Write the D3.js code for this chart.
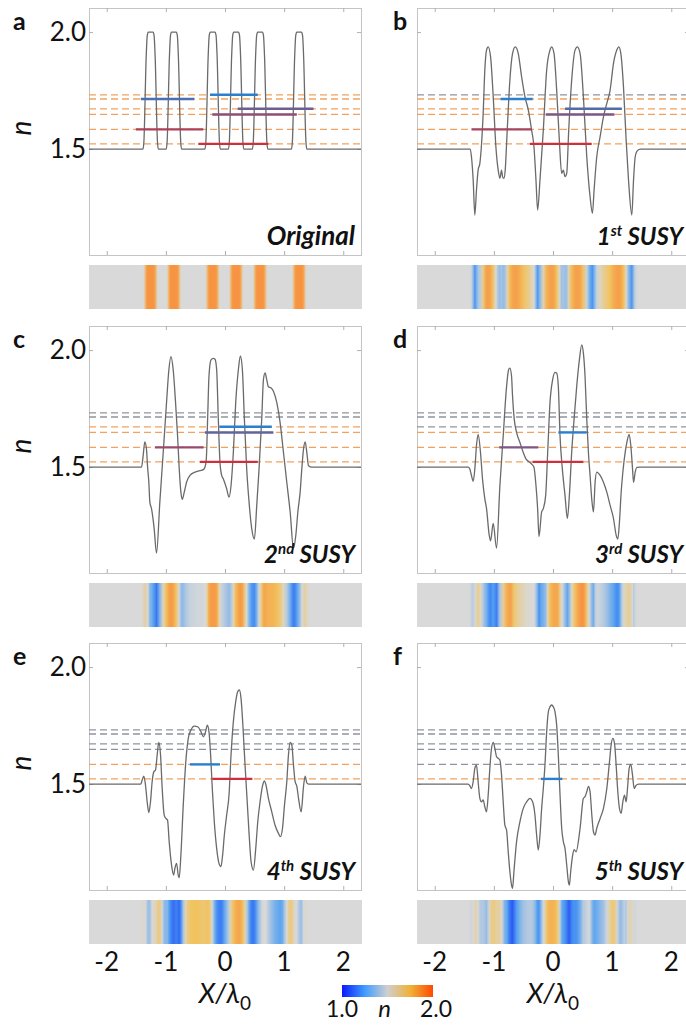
<!DOCTYPE html>
<html><head><meta charset="utf-8">
<script src="https://cdn.jsdelivr.net/npm/d3@7"></script>
<style>body{margin:0;background:#fff}svg{display:block}</style>
</head><body>
<script>
// ---------- data ----------
const xTicks = [-2, -1, 0, 1, 2];
const yTicks = [1.5, 2.0];
const panelLetters = ["a", "b", "c", "d", "e", "f"];
const titleMain = ["Original", "1", "2", "3", "4", "5"];
const titleSup = ["", "st", "nd", "rd", "th", "th"];
const modeIndex = [1.732, 1.714, 1.672, 1.648, 1.584, 1.522];
const colorbarTicks = [1.0, 2.0];

const profileA = [[-2.3,1.5],
 [-1.387,1.5],[-1.372,1.53],[-1.332,1.9],[-1.315,1.985],[-1.297,2.0],[-1.217,2.0],[-1.199,1.985],[-1.182,1.9],[-1.142,1.53],[-1.127,1.5],
 [-0.994,1.5],[-0.979,1.53],[-0.939,1.9],[-0.922,1.985],[-0.904,2.0],[-0.824,2.0],[-0.806,1.985],[-0.789,1.9],[-0.749,1.53],[-0.734,1.5],
 [-0.339,1.5],[-0.324,1.53],[-0.284,1.9],[-0.267,1.985],[-0.249,2.0],[-0.169,2.0],[-0.151,1.985],[-0.134,1.9],[-0.094,1.53],[-0.079,1.5],
 [0.058,1.5],[0.073,1.53],[0.113,1.9],[0.130,1.985],[0.148,2.0],[0.228,2.0],[0.246,1.985],[0.263,1.9],[0.303,1.53],[0.318,1.5],
 [0.463,1.5],[0.478,1.53],[0.518,1.9],[0.535,1.985],[0.553,2.0],[0.633,2.0],[0.651,1.985],[0.668,1.9],[0.708,1.53],[0.723,1.5],
 [1.124,1.5],[1.139,1.53],[1.179,1.9],[1.196,1.985],[1.214,2.0],[1.294,2.0],[1.312,1.985],[1.329,1.9],[1.369,1.53],[1.384,1.5],
 [2.3,1.5]];

const profileB = [[-2.3,1.5],[-1.40,1.5],[-1.379,1.467],[-1.35,1.368],[-1.322,1.218],[-1.294,1.325],[-1.266,1.41],[-1.237,1.439],[-1.181,1.652],[-1.153,1.838],[-1.124,1.923],[-1.096,1.937],[-1.056,1.895],[-1.011,1.724],[-0.966,1.51],[-0.927,1.41],[-0.898,1.375],[-0.870,1.41],[-0.853,1.382],[-0.831,1.375],[-0.808,1.41],[-0.774,1.581],[-0.729,1.795],[-0.684,1.909],[-0.638,1.937],[-0.588,1.909],[-0.531,1.809],[-0.475,1.724],[-0.418,1.667],[-0.362,1.581],[-0.322,1.51],[-0.288,1.368],[-0.260,1.239],[-0.220,1.368],[-0.164,1.581],[-0.107,1.838],[-0.051,1.923],[-0.023,1.937],[0.017,1.909],[0.062,1.752],[0.107,1.538],[0.147,1.396],[0.175,1.41],[0.203,1.382],[0.232,1.396],[0.266,1.581],[0.316,1.795],[0.373,1.923],[0.412,1.937],[0.458,1.909],[0.514,1.724],[0.571,1.467],[0.627,1.296],[0.667,1.225],[0.695,1.325],[0.740,1.467],[0.797,1.553],[0.853,1.638],[0.910,1.695],[0.966,1.752],[1.023,1.866],[1.079,1.923],[1.113,1.937],[1.147,1.909],[1.192,1.766],[1.237,1.538],[1.277,1.368],[1.333,1.218],[1.362,1.368],[1.390,1.467],[1.418,1.49],[1.475,1.5],[2.3,1.5]];

const profileC = [[-2.3,1.5],[-1.412,1.5],[-1.384,1.549],[-1.356,1.608],[-1.328,1.577],[-1.311,1.506],[-1.288,1.435],[-1.271,1.35],[-1.243,1.322],[-1.198,1.237],[-1.158,1.132],[-1.102,1.35],[-1.045,1.562],[-0.989,1.775],[-0.949,1.916],[-0.915,1.972],[-0.876,1.916],[-0.836,1.775],[-0.802,1.633],[-0.774,1.492],[-0.746,1.393],[-0.723,1.362],[-0.689,1.393],[-0.650,1.435],[-0.593,1.464],[-0.508,1.478],[-0.424,1.485],[-0.367,1.489],[-0.339,1.499],[-0.316,1.535],[-0.294,1.704],[-0.271,1.888],[-0.237,1.958],[-0.198,1.965],[-0.169,1.961],[-0.141,1.916],[-0.113,1.704],[-0.085,1.52],[-0.056,1.464],[-0.028,1.449],[0.028,1.407],[0.068,1.371],[0.102,1.421],[0.141,1.562],[0.181,1.775],[0.226,1.916],[0.260,1.975],[0.294,1.916],[0.328,1.704],[0.367,1.492],[0.407,1.35],[0.452,1.237],[0.497,1.192],[0.537,1.336],[0.576,1.492],[0.621,1.704],[0.650,1.874],[0.678,1.902],[0.706,1.874],[0.734,1.843],[0.780,1.838],[0.819,1.824],[0.876,1.775],[0.932,1.69],[0.989,1.562],[1.045,1.435],[1.102,1.308],[1.158,1.153],[1.198,1.209],[1.232,1.308],[1.271,1.393],[1.299,1.492],[1.328,1.577],[1.356,1.608],[1.384,1.562],[1.412,1.506],[1.469,1.5],[2.3,1.5]];

const profileD = [[-2.3,1.5],[-1.435,1.5],[-1.407,1.492],[-1.379,1.464],[-1.350,1.439],[-1.322,1.492],[-1.294,1.592],[-1.266,1.64],[-1.226,1.562],[-1.192,1.449],[-1.153,1.364],[-1.124,1.322],[-1.079,1.209],[-1.056,1.184],[-1.011,1.259],[-0.955,1.153],[-0.898,1.421],[-0.842,1.633],[-0.785,1.845],[-0.751,1.916],[-0.729,1.923],[-0.701,1.888],[-0.684,1.803],[-0.655,1.704],[-0.616,1.648],[-0.559,1.605],[-0.503,1.562],[-0.458,1.535],[-0.418,1.525],[-0.362,1.513],[-0.322,1.499],[-0.288,1.421],[-0.260,1.322],[-0.237,1.203],[-0.192,1.308],[-0.164,1.322],[-0.124,1.379],[-0.090,1.562],[-0.051,1.775],[-0.006,1.874],[0.034,1.905],[0.062,1.902],[0.090,1.845],[0.119,1.633],[0.158,1.492],[0.203,1.379],[0.243,1.28],[0.277,1.379],[0.316,1.562],[0.356,1.704],[0.401,1.845],[0.446,1.958],[0.486,2.022],[0.514,1.987],[0.542,1.888],[0.571,1.704],[0.599,1.562],[0.627,1.464],[0.655,1.364],[0.684,1.308],[0.712,1.435],[0.740,1.478],[0.797,1.464],[0.853,1.435],[0.910,1.393],[0.966,1.336],[1.023,1.28],[1.068,1.209],[1.096,1.192],[1.124,1.266],[1.153,1.393],[1.181,1.478],[1.220,1.562],[1.249,1.605],[1.288,1.64],[1.316,1.592],[1.345,1.492],[1.362,1.435],[1.390,1.478],[1.418,1.499],[1.475,1.5],[2.3,1.5]];

const profileE = [[-2.3,1.5],[-1.424,1.5],[-1.401,1.517],[-1.373,1.534],[-1.345,1.496],[-1.316,1.424],[-1.288,1.378],[-1.260,1.424],[-1.232,1.51],[-1.203,1.553],[-1.175,1.56],[-1.147,1.624],[-1.119,1.678],[-1.090,1.624],[-1.062,1.481],[-1.028,1.367],[-1.0,1.353],[-0.972,1.346],[-0.944,1.254],[-0.904,1.154],[-0.870,1.111],[-0.847,1.140],[-0.819,1.161],[-0.791,1.111],[-0.774,1.100],[-0.746,1.197],[-0.706,1.410],[-0.667,1.581],[-0.621,1.695],[-0.576,1.731],[-0.520,1.748],[-0.463,1.745],[-0.407,1.724],[-0.367,1.702],[-0.328,1.724],[-0.299,1.752],[-0.271,1.724],[-0.243,1.624],[-0.215,1.481],[-0.181,1.339],[-0.141,1.225],[-0.102,1.161],[-0.068,1.147],[-0.040,1.197],[-0.011,1.282],[0.028,1.367],[0.068,1.453],[0.102,1.624],[0.141,1.766],[0.181,1.852],[0.215,1.895],[0.243,1.902],[0.271,1.866],[0.299,1.766],[0.339,1.581],[0.379,1.410],[0.407,1.289],[0.441,1.168],[0.480,1.132],[0.520,1.225],[0.554,1.339],[0.593,1.424],[0.633,1.49],[0.667,1.513],[0.689,1.50],[0.734,1.439],[0.791,1.381],[0.847,1.324],[0.904,1.289],[0.938,1.275],[0.972,1.31],[1.006,1.41],[1.045,1.51],[1.073,1.624],[1.102,1.678],[1.130,1.667],[1.158,1.581],[1.186,1.51],[1.215,1.49],[1.243,1.44],[1.288,1.381],[1.328,1.49],[1.356,1.534],[1.384,1.505],[1.412,1.5],[2.3,1.5]];

const profileF = [[-2.3,1.5],[-1.435,1.5],[-1.407,1.493],[-1.379,1.481],[-1.350,1.51],[-1.322,1.567],[-1.294,1.581],[-1.266,1.51],[-1.237,1.439],[-1.209,1.424],[-1.181,1.432],[-1.153,1.403],[-1.124,1.381],[-1.096,1.453],[-1.068,1.567],[-1.040,1.652],[-1.011,1.678],[-0.983,1.652],[-0.955,1.617],[-0.927,1.610],[-0.898,1.603],[-0.870,1.538],[-0.842,1.424],[-0.814,1.324],[-0.785,1.303],[-0.757,1.21],[-0.729,1.125],[-0.701,1.068],[-0.684,1.054],[-0.661,1.125],[-0.616,1.254],[-0.559,1.339],[-0.503,1.396],[-0.446,1.424],[-0.390,1.439],[-0.345,1.424],[-0.305,1.367],[-0.277,1.282],[-0.249,1.218],[-0.220,1.282],[-0.192,1.396],[-0.164,1.481],[-0.136,1.581],[-0.107,1.724],[-0.079,1.809],[-0.051,1.83],[-0.023,1.838],[0.006,1.83],[0.034,1.809],[0.062,1.752],[0.090,1.624],[0.119,1.453],[0.147,1.311],[0.175,1.254],[0.203,1.225],[0.232,1.154],[0.260,1.083],[0.277,1.068],[0.299,1.125],[0.328,1.189],[0.356,1.22],[0.390,1.21],[0.458,1.311],[0.514,1.439],[0.542,1.446],[0.571,1.467],[0.599,1.49],[0.627,1.467],[0.655,1.372],[0.684,1.296],[0.712,1.282],[0.740,1.311],[0.797,1.353],[0.853,1.396],[0.910,1.481],[0.955,1.595],[0.983,1.667],[1.011,1.695],[1.040,1.674],[1.068,1.581],[1.096,1.467],[1.124,1.396],[1.153,1.375],[1.181,1.424],[1.209,1.453],[1.237,1.424],[1.260,1.481],[1.288,1.567],[1.316,1.584],[1.345,1.538],[1.373,1.481],[1.401,1.493],[1.446,1.5],[2.3,1.5]];

// bound-mode segments: [mode number, x start, x end]
const segmentsA = [[0,-0.254,0.554],[1,-1.424,-0.520],[2,0.215,1.497],[3,-0.215,1.215],[4,-1.508,-0.367],[5,-0.452,0.734]];
const segmentsB = [[1,-0.887,-0.345],[2,0.203,1.164],[3,-0.124,1.040],[4,-1.379,-0.362],[5,-0.390,0.655]];
const segmentsC = [[2,-0.096,0.791],[3,-0.339,0.819],[4,-1.186,-0.362],[5,-0.424,0.554]];
const segmentsD = [[3,0.090,0.571],[4,-0.909,-0.249],[5,-0.345,0.514]];
const segmentsE = [[4,-0.593,-0.085],[5,-0.215,0.463]];
const segmentsF = [[5,-0.203,0.158]];

const profiles = [profileA, profileB, profileC, profileD, profileE, profileF];
const segments = [segmentsA, segmentsB, segmentsC, segmentsD, segmentsE, segmentsF];

// ---------- layout ----------
const W = 686, H = 1026;
const colX = [89, 417], plotW = 272;
const rowY = [8, 326, 643], plotH = 247;
const stripGap = 257, stripH = 44;
const font = "Lato, 'Open Sans', sans-serif";

const cmapDomain = [1.0, 1.25, 1.5, 1.75, 2.0];
const cmapColors = ["#2448f5", "#4f9ff2", "#d9d9d9", "#f1c35e", "#f79444"];
const cbarColors = ["#0a1aff", "#3f9cff", "#cfcfcf", "#f0b238", "#ff4a00"];
const cmap = d3.scaleLinear().domain(cmapDomain).range(cmapColors).clamp(true);
const cbarMap = d3.scaleLinear().domain(cmapDomain).range(cbarColors).clamp(true);
const segColor = d3.interpolateRgb("#2b7fcf", "#cf2f3a");

const svg = d3.select("body").append("svg").attr("width", W).attr("height", H)
  .style("font-family", font);
const defs = svg.append("defs");

profiles.forEach((prof, i) => {
  const col = i % 2, row = Math.floor(i / 2);
  const x = d3.scaleLinear().domain([-2.3, 2.3]).range([colX[col], colX[col] + plotW]);
  const y = d3.scaleLinear().domain([1.047, 2.103]).range([rowY[row] + plotH, rowY[row]]);
  const g = svg.append("g");
  const clipId = "clip" + i;
  defs.append("clipPath").attr("id", clipId).append("rect")
    .attr("x", x.range()[0]).attr("y", y.range()[1]).attr("width", plotW).attr("height", plotH);

  // frame
  g.append("rect").attr("x", x.range()[0] + 0.5).attr("y", y.range()[1] + 0.5)
    .attr("width", plotW).attr("height", plotH)
    .attr("fill", "none").attr("stroke", "#c4c4c4").attr("stroke-width", 1);

  // ticks (inward)
  const xb = d3.axisBottom(x).tickValues(xTicks).tickSize(-4).tickFormat("");
  const xt = d3.axisTop(x).tickValues(xTicks).tickSize(-4).tickFormat("");
  const yl = d3.axisLeft(y).tickValues(yTicks).tickSize(-4).tickFormat("");
  const yr = d3.axisRight(y).tickValues(yTicks).tickSize(-4).tickFormat("");
  [[xb, `translate(0,${y.range()[0]})`], [xt, `translate(0,${y.range()[1]})`],
   [yl, `translate(${x.range()[0]},0)`], [yr, `translate(${x.range()[1]},0)`]].forEach(([ax, tr]) => {
    const a = g.append("g").attr("transform", tr).call(ax);
    a.select(".domain").remove();
    a.selectAll("line").attr("stroke", "#b0b0b0");
  });

  const inner = g.append("g").attr("clip-path", `url(#${clipId})`);

  // dashed effective-index lines
  modeIndex.forEach((n, m) => {
    inner.append("line").attr("x1", x.range()[0]).attr("x2", x.range()[1])
      .attr("y1", y(n)).attr("y2", y(n))
      .attr("stroke", m < i ? "#8f959e" : "#f2a25e")
      .attr("stroke-width", 1.3).attr("stroke-dasharray", "7,4");
  });

  // profile curve
  const line = d3.line().x(d => x(d[0])).y(d => y(d[1])).curve(d3.curveMonotoneX);
  inner.append("path").datum(prof).attr("d", line)
    .attr("fill", "none").attr("stroke", "#6a6a6a").attr("stroke-width", 1.3);

  // mode segments
  const segs = segments[i];
  segs.forEach((s, j) => {
    const t = segs.length > 1 ? j / (segs.length - 1) : 0;
    inner.append("line").attr("x1", x(s[1])).attr("x2", x(s[2]))
      .attr("y1", y(modeIndex[s[0]])).attr("y2", y(modeIndex[s[0]]))
      .attr("stroke", segColor(t)).attr("stroke-width", 2.4);
  });

  // strip with refractive-index colour
  const gid = "grad" + i;
  const grad = defs.append("linearGradient").attr("id", gid)
    .attr("gradientUnits", "userSpaceOnUse")
    .attr("x1", x.range()[0]).attr("x2", x.range()[1]).attr("y1", 0).attr("y2", 0);
  prof.forEach(d => {
    grad.append("stop").attr("offset", (x(d[0]) - x.range()[0]) / plotW)
      .attr("stop-color", cmap(d[1]));
  });
  g.append("rect").attr("x", x.range()[0]).attr("y", rowY[row] + stripGap)
    .attr("width", plotW + 1).attr("height", stripH).attr("fill", `url(#${gid})`);

  // panel letter
  g.append("text").attr("x", x.range()[0] - (col === 0 ? 76 : 24)).attr("y", rowY[row] + 22)
    .attr("font-size", 25).attr("font-weight", "bold").attr("fill", "#111").text(panelLetters[i]);

  // title
  const tt = g.append("text").attr("x", x.range()[1] - 6).attr("y", y.range()[0] - 10)
    .attr("text-anchor", "end").attr("font-size", titleSup[i] ? 24 : 26).attr("font-weight", "bold")
    .attr("font-style", "italic").attr("fill", "#111");
  tt.append("tspan").text(titleMain[i]);
  if (titleSup[i]) {
    tt.append("tspan").attr("dy", -9).attr("font-size", 15).text(titleSup[i]);
    tt.append("tspan").attr("dy", 9).text(" SUSY");
  }

  // y tick labels + axis title on left column
  if (col === 0) {
    yTicks.forEach(v => {
      g.append("text").attr("x", x.range()[0] - 3).attr("y", y(v)).attr("dy", "0.35em")
        .attr("text-anchor", "end").attr("font-size", 26).attr("fill", "#111")
        .text(d3.format(".1f")(v));
    });
    g.append("text").attr("transform", `translate(31,${y(1.5) - 21}) rotate(-90)`)
      .attr("text-anchor", "middle").attr("font-size", 28).attr("font-style", "italic")
      .attr("fill", "#111").text("n");
  }

  // x tick labels under bottom row
  if (row === 2) {
    xTicks.forEach(v => {
      g.append("text").attr("x", x(v)).attr("y", rowY[row] + stripGap + stripH + 27)
        .attr("text-anchor", "middle").attr("font-size", 26).attr("fill", "#111")
        .text(v < 0 ? "-" + Math.abs(v) : String(v));
    });
    const xl = g.append("text").attr("x", x(0)).attr("y", 1003)
      .attr("text-anchor", "middle").attr("font-size", 27).attr("fill", "#111");
    xl.append("tspan").attr("font-style", "italic").text("X/λ");
    xl.append("tspan").attr("dy", 7).attr("font-size", 19).text("0");
  }
});

// colour bar
const cbx = d3.scaleLinear().domain([1.0, 2.0]).range([342, 433]);
const cbg = defs.append("linearGradient").attr("id", "cbar")
  .attr("gradientUnits", "userSpaceOnUse").attr("x1", cbx(1.0)).attr("x2", cbx(2.0)).attr("y1", 0).attr("y2", 0);
cmapDomain.forEach(v => cbg.append("stop").attr("offset", (cbx(v) - cbx(1.0)) / (cbx(2.0) - cbx(1.0))).attr("stop-color", cbarMap(v)));
svg.append("rect").attr("x", cbx(1.0)).attr("y", 985).attr("width", cbx(2.0) - cbx(1.0)).attr("height", 12)
  .attr("fill", "url(#cbar)");
colorbarTicks.forEach(v => {
  svg.append("text").attr("x", cbx(v) + (v === 2.0 ? 3 : 0)).attr("y", 1017).attr("text-anchor", "middle")
    .attr("font-size", 23).attr("fill", "#111").text(d3.format(".1f")(v));
});
svg.append("text").attr("x", cbx(1.5) - 3).attr("y", 1017).attr("text-anchor", "middle")
  .attr("font-size", 24).attr("font-style", "italic").attr("fill", "#111").text("n");
</script>
</body></html>
